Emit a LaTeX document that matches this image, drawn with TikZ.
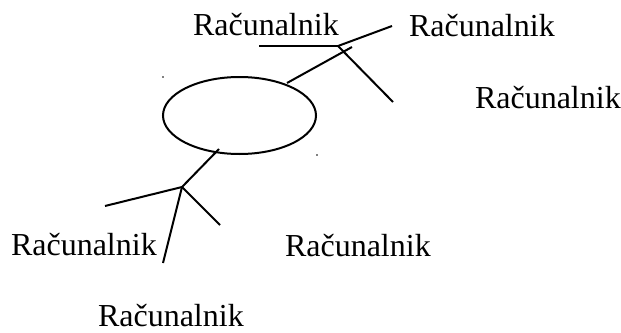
\documentclass[tikz,border=0pt]{standalone}
\usepackage{fontspec}
\setmainfont{Liberation Serif}
\usetikzlibrary{shapes.geometric}

\begin{document}
\begin{tikzpicture}[x=.5pt,y=-.5pt,line width=1pt,
  pc/.style={anchor=base west,inner sep=0pt,font=\fontsize{16}{18}\selectfont}]
\useasboundingbox (0,0) rectangle (621,332);
% ring in the middle
\node[draw,ellipse,minimum width=76.5pt,minimum height=38.5pt,inner sep=0pt] (ring) at (239.5,115.5) {};
\fill (163,77) circle (.4pt);
\fill (317,155) circle (.4pt);
% computers
\foreach \nm/\xx/\yy in {pcA/192/35,pcB/408/36,pcC/474/108,pcD/10/255,pcE/284/256,pcF/97/326}
  \node[pc] (\nm) at (\xx,\yy) {Računalnik};
% top hub
\coordinate (hubT) at (338,46);
\coordinate (tA) at (259,46);
\coordinate (tB) at (392,26);
\coordinate (tC) at (393,102);
\coordinate (eT) at (287,83);
\coordinate (tD) at (352,47);
\draw (hubT) -- (tA);
\draw (hubT) -- (tB);
\draw (hubT) -- (tC);
\draw (eT) -- (tD);
% bottom hub
\coordinate (hubB) at (182,187);
\coordinate (eB) at (219,149);
\coordinate (bA) at (105,206);
\coordinate (bB) at (220,225);
\coordinate (bC) at (163,263);
\draw (eB) -- (hubB);
\foreach \ee in {bA,bB,bC}
  \draw (hubB) -- (\ee);
\end{tikzpicture}
\end{document}
